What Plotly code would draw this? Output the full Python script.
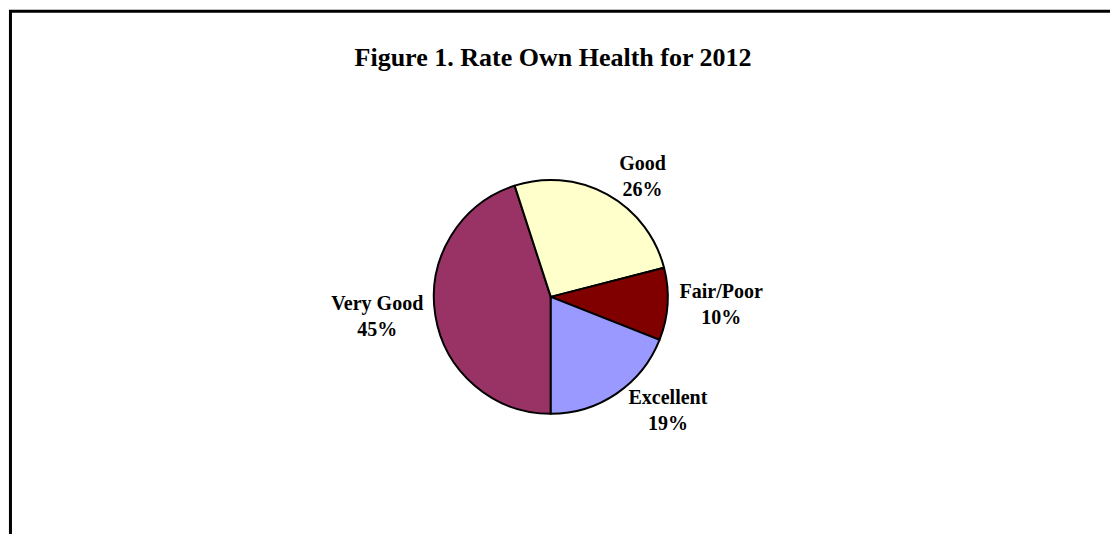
import plotly.graph_objects as go

categories = ["Very Good", "Good", "Fair/Poor", "Excellent"]
shares = [45, 26, 10, 19]
slice_colors = ["#993366", "#FFFFCC", "#800000", "#9999FF"]

fig = go.Figure()
fig.add_trace(go.Pie(
    labels=categories,
    values=shares,
    sort=False,
    direction="clockwise",
    rotation=180,
    marker=dict(colors=slice_colors, line=dict(color="black", width=2)),
    texttemplate="<b>%{label}</b><br><b>%{percent:.0%}</b>",
    textposition="outside",
    textfont=dict(family="Liberation Serif", size=20, color="black"),
    domain=dict(x=[0.29, 0.681], y=[0.24, 0.678]),
    showlegend=False,
    hoverinfo="label+percent",
))

# frame around chart area (only top/left visible in the original)
fig.add_shape(type="rect", xref="paper", yref="paper",
              x0=0.0022, y0=-0.05, x1=1.05, y1=0.9938,
              line=dict(color="black", width=3))

fig.update_layout(
    title=dict(text="<b>Figure 1. Rate Own Health for 2012</b>",
               x=0.4875, xanchor="center", y=0.908, yanchor="middle",
               font=dict(family="Liberation Serif", size=26, color="black")),
    width=1118, height=534,
    margin=dict(l=0, r=0, t=0, b=0),
    paper_bgcolor="white",
    plot_bgcolor="white",
)

fig.write_html("out.html")
